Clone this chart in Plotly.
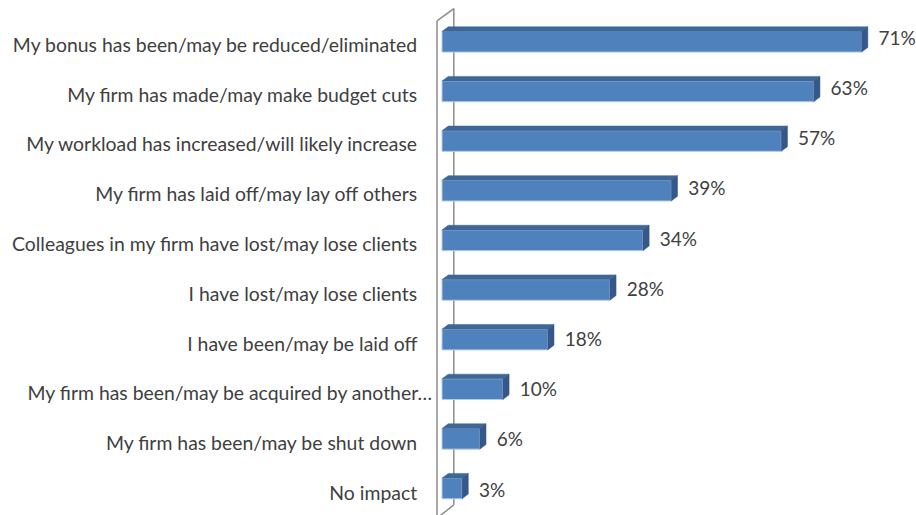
import plotly.graph_objects as go

categories = [
    "My bonus has been/may be reduced/eliminated",
    "My firm has made/may make budget cuts",
    "My workload has increased/will likely increase",
    "My firm has laid off/may lay off others",
    "Colleagues in my firm have lost/may lose clients",
    "I have lost/may lose clients",
    "I have been/may be laid off",
    "My firm has been/may be acquired by another…",
    "My firm has been/may be shut down",
    "No impact",
]
values = [71, 62.9, 57.4, 38.8, 34, 28.4, 17.9, 10.3, 6.4, 3.4]

FONT = "Lato"
TEXT = "#404040"
DX, DY, HALF = 1.05, 0.095, 0.208
idx = list(range(len(values)))

top_x, top_y, side_x, side_y = [], [], [], []
for i, v in zip(idx, values):
    top_x += [0, DX, v + DX, v, 0, None]
    top_y += [i - HALF, i - HALF - DY, i - HALF - DY, i - HALF, i - HALF, None]
    side_x += [v, v + DX, v + DX, v, v, None]
    side_y += [i - HALF, i - HALF - DY, i + HALF - DY, i + HALF, i - HALF, None]

fig = go.Figure()
fig.add_trace(go.Bar(
    y=idx, x=values, orientation="h", width=2 * HALF,
    marker=dict(color="#4F81BD", line=dict(color="#B4CBE6", width=1)),
    hoverinfo="skip",
))
fig.add_trace(go.Scatter(x=top_x, y=top_y, mode="lines", fill="toself",
                         fillcolor="#3D6796", line=dict(color="#3D6796", width=0.5), hoverinfo="skip"))
fig.add_trace(go.Scatter(x=side_x, y=side_y, mode="lines", fill="toself",
                         fillcolor="#35588A", line=dict(color="#35588A", width=0.5), hoverinfo="skip"))
fig.add_trace(go.Scatter(
    x=[v + DX + 1.8 for v in values], y=[i * 1.008 - 0.1 for i in idx], yaxis="y2",
    mode="text", text=[f"{v:.0f}%" for v in values], textposition="middle right",
    textfont=dict(family=FONT, size=19, color=TEXT), cliponaxis=False, hoverinfo="skip",
))

wall = dict(type="line", xref="x", yref="y", layer="below", line=dict(color="#8C8C8C", width=1.5))
W0, W1 = -0.85, 2.0
for x0, y0, x1, y1 in [
    (W0, -0.42, W0, 9.6),
    (W0, -0.42, W1, -0.67),
    (W1, -0.67, W1, 9.33),
    (W1, 9.33, W0, 9.6),
]:
    fig.add_shape(x0=x0, y0=y0, x1=x1, y1=y1, **wall)

fig.update_layout(
    width=916, height=515, autosize=False,
    margin=dict(l=433, r=0, t=0, b=0),
    paper_bgcolor="white", plot_bgcolor="white", showlegend=False,
    yaxis2=dict(
        overlaying="y", side="left", range=[9.438, -0.904],
        showgrid=False, zeroline=False, showline=False,
        tickmode="array", tickvals=idx,
        ticktext=[c if c.endswith("…") else c + "\u00a0\u00a0\u00a0" for c in categories],
        tickfont=dict(family=FONT, size=19.4, color=TEXT), ticks="",
    ),
)
fig.update_xaxes(range=[-1.523, 80.2], visible=False)
fig.layout.yaxis.update(range=[9.535, -0.842], visible=False)
fig.write_html(
    "out.html",
    config=dict(displayModeBar=False),
    post_script="document.body.style.margin='0';document.body.style.overflow='hidden';",
)
